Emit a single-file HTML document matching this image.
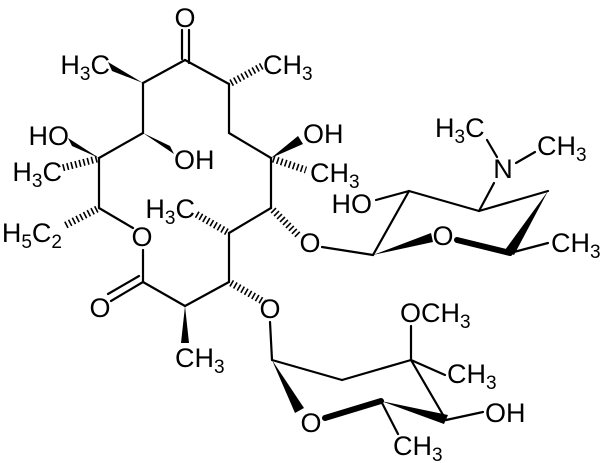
<!DOCTYPE html>
<html><head><meta charset="utf-8"><style>
html,body{margin:0;padding:0;background:#fff;}
svg{display:block;}
text{font-family:"Liberation Sans",Arial,sans-serif;font-size:27px;fill:#000;}
.s{font-size:19px;}
</style></head><body>
<svg width="604" height="463" viewBox="0 0 604 463" xmlns="http://www.w3.org/2000/svg">
<g stroke="#000" stroke-width="2.2" fill="none" stroke-linecap="round">
<!-- macrolide ring -->
<line x1="182" y1="59" x2="182" y2="30"/><line x1="189" y1="63" x2="189" y2="30"/>
<line x1="143" y1="83" x2="185" y2="60"/><line x1="185" y1="60" x2="229" y2="84"/>
<line x1="143" y1="83" x2="143" y2="133"/><line x1="143" y1="133" x2="99" y2="158"/>
<line x1="99" y1="158" x2="99" y2="208"/><line x1="99" y1="208" x2="133" y2="228"/>
<line x1="143" y1="250" x2="143" y2="282"/><line x1="143" y1="282" x2="185" y2="306"/>
<line x1="185" y1="306" x2="229" y2="282"/><line x1="229" y1="282" x2="229" y2="233"/>
<line x1="229" y1="233" x2="271" y2="208"/><line x1="271" y1="208" x2="271" y2="158"/>
<line x1="271" y1="158" x2="229" y2="133"/><line x1="229" y1="133" x2="229" y2="84"/>
<line x1="143" y1="282" x2="111" y2="301"/><line x1="139" y1="276" x2="108" y2="294"/>
<!-- desosamine -->
<line x1="322" y1="247" x2="373" y2="255"/><line x1="373" y1="255" x2="409" y2="191"/>
<line x1="409" y1="191" x2="376" y2="200"/><line x1="409" y1="191" x2="479" y2="211"/>
<line x1="479" y1="211" x2="494" y2="183"/><line x1="497" y1="157" x2="487" y2="140"/>
<line x1="516" y1="163" x2="535" y2="152"/><line x1="479" y1="211" x2="548" y2="191"/>
<line x1="510" y1="253" x2="548" y2="243"/>
<line x1="510" y1="253" x2="457" y2="240" stroke-width="6"/>
<!-- cladinose -->
<line x1="270" y1="322" x2="272" y2="360"/><line x1="272" y1="360" x2="342" y2="380"/>
<line x1="342" y1="380" x2="411" y2="360"/><line x1="411" y1="360" x2="411" y2="326"/>
<line x1="411" y1="360" x2="445" y2="375"/><line x1="411" y1="360" x2="446" y2="420"/>
<line x1="446" y1="420" x2="483" y2="412"/><line x1="381" y1="401" x2="398" y2="434"/>
<line x1="381" y1="401" x2="325" y2="418" stroke-width="6"/>
</g>
<!-- wedges -->
<g fill="#000">
<polygon points="143,83 108,62 112,71"/>
<polygon points="143,133 170,146 174,154"/>
<polygon points="99,158 68,138 72,146"/>
<polygon points="185,306 181,343 189,343"/>
<polygon points="271,158 298,136 303,144"/>
<polygon points="548,191 505,250 514,255"/>
<polygon points="373,255 431,233 433,242"/>
<polygon points="381,401 448,415 444,424"/>
<polygon points="272,360 295,413 304,408"/>
</g>
<!-- hashes -->
<g stroke="#000" stroke-width="7" stroke-dasharray="1.6,2.6" fill="none">
<line x1="231" y1="83" x2="262" y2="66"/>
<line x1="97" y1="159" x2="62" y2="168"/>
<line x1="97" y1="209" x2="64" y2="226"/>
<line x1="231" y1="283" x2="264" y2="302"/>
<line x1="227" y1="232" x2="196" y2="214"/>
<line x1="273" y1="159" x2="306" y2="170"/>
<line x1="273" y1="210" x2="299" y2="236"/>
</g>
<!-- labels -->
<text x="185" y="27" text-anchor="middle">O</text>
<text x="110" y="74" text-anchor="end">H<tspan class="s" dy="6">3</tspan><tspan dy="-6">C</tspan></text>
<text x="263" y="74">CH<tspan class="s" dy="6">3</tspan></text>
<text x="174" y="169">OH</text>
<text x="69" y="145" text-anchor="end">HO</text>
<text x="62" y="181" text-anchor="end">H<tspan class="s" dy="6">3</tspan><tspan dy="-6">C</tspan></text>
<text x="62" y="242" text-anchor="end">H<tspan class="s" dy="6">5</tspan><tspan dy="-6">C</tspan><tspan class="s" dy="6">2</tspan></text>
<text x="142" y="246" text-anchor="middle">O</text>
<text x="100" y="317" text-anchor="middle">O</text>
<text x="175" y="367">CH<tspan class="s" dy="6">3</tspan></text>
<text x="270" y="318" text-anchor="middle">O</text>
<text x="195" y="218" text-anchor="end">H<tspan class="s" dy="6">3</tspan><tspan dy="-6">C</tspan></text>
<text x="303" y="143">OH</text>
<text x="310" y="182">CH<tspan class="s" dy="6">3</tspan></text>
<text x="310" y="252" text-anchor="middle">O</text>
<text x="372" y="213" text-anchor="end">HO</text>
<text x="503" y="178" text-anchor="middle">N</text>
<text x="435" y="137">H<tspan class="s" dy="6">3</tspan><tspan dy="-6">C</tspan></text>
<text x="537" y="155">CH<tspan class="s" dy="6">3</tspan></text>
<text x="443" y="245" text-anchor="middle">O</text>
<text x="551" y="252">CH<tspan class="s" dy="6">3</tspan></text>
<text x="400" y="322">OCH<tspan class="s" dy="6">3</tspan></text>
<text x="447" y="383">CH<tspan class="s" dy="6">3</tspan></text>
<text x="485" y="422">OH</text>
<text x="311" y="432" text-anchor="middle">O</text>
<text x="393" y="455">CH<tspan class="s" dy="6">3</tspan></text>
</svg>
</body></html>
